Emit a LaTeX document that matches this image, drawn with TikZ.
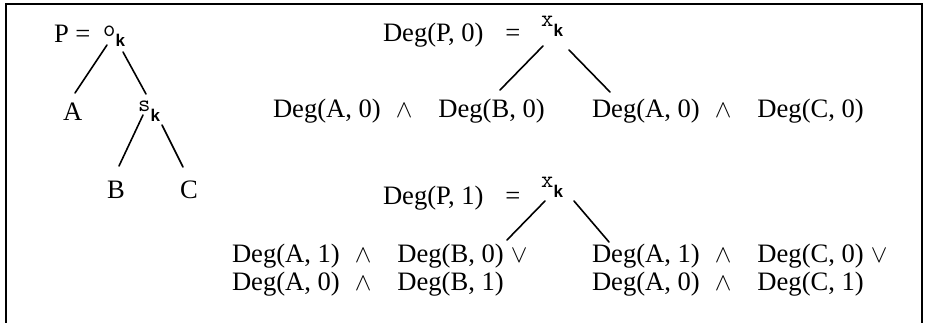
\documentclass[tikz,border=0pt]{standalone}
\usepackage{fontspec}
\setmainfont{Liberation Serif}
\newfontfamily\labfont{Liberation Mono}
\newcommand\mytx[1]{{\fontsize{24}{24}\selectfont\ttfamily #1}\raisebox{-10pt}{\fontsize{17}{17}\selectfont\labfont\bfseries k}}
\newcommand\myand{\hspace{15pt}$\wedge$\hspace{26pt}}
\newcommand\myor{\hspace{7pt}$\vee$}
\begin{document}
\begin{tikzpicture}[x=1pt,y=-1pt,
  every node/.style={inner sep=0pt, outer sep=0pt, anchor=base west,
    font=\fontsize{26.6}{28}\selectfont},
  edge/.style={line width=1.6pt, line cap=round},
  frame/.style={line width=2pt}]
\useasboundingbox (0,0) rectangle (925,323);
\draw[frame] (6,330) -- (6,4) -- (922,4) -- (922,330);

% tree 1
\node (pe) at (54,43) {P =};
\node (ok) at (103,37) {\mytx{o}};
\node (a) at (63,121) {A};
\node (sk) at (138,112) {\mytx{s}};
\node (b) at (107,198) {B};
\node (c) at (180,198) {C};
\coordinate (okL) at (107,45);
\coordinate (okR) at (123,52);
\coordinate (aT) at (75,93);
\coordinate (skT) at (146,94);
\coordinate (skL) at (143,115);
\coordinate (skR) at (162,125);
\coordinate (bT) at (119,166);
\coordinate (cT) at (183,167);
\draw[edge] (okL) -- (aT);
\draw[edge] (okR) -- (skT);
\draw[edge] (skL) -- (bT);
\draw[edge] (skR) -- (cT);

% tree 2
\node (d0) at (383,42) {Deg(P, 0)\hspace{22pt}=};
\node (xk0) at (541,27) {\mytx{x}};
\node (l0) at (273,118) {Deg(A, 0)\myand Deg(B, 0)};
\node (r0) at (592,118) {Deg(A, 0)\myand Deg(C, 0)};
\coordinate (x0L) at (543,46);
\coordinate (x0R) at (569,50);
\coordinate (l0T) at (500,90);
\coordinate (r0T) at (610,92);
\draw[edge] (x0L) -- (l0T);
\draw[edge] (x0R) -- (r0T);

% tree 3
\node (d1) at (383,204) {Deg(P, 1)\hspace{22pt}=};
\node (xk1) at (541,187) {\mytx{x}};
\node (l1a) at (232,262) {Deg(A, 1)\myand Deg(B, 0)\myor};
\node (l1b) at (232,290) {Deg(A, 0)\myand Deg(B, 1)};
\node (r1a) at (592,262) {Deg(A, 1)\myand Deg(C, 0)\myor};
\node (r1b) at (592,290) {Deg(A, 0)\myand Deg(C, 1)};
\coordinate (x1L) at (545,201);
\coordinate (x1R) at (574,201);
\coordinate (l1T) at (507,240);
\coordinate (r1T) at (609,242);
\draw[edge] (x1L) -- (l1T);
\draw[edge] (x1R) -- (r1T);
\end{tikzpicture}
\end{document}
